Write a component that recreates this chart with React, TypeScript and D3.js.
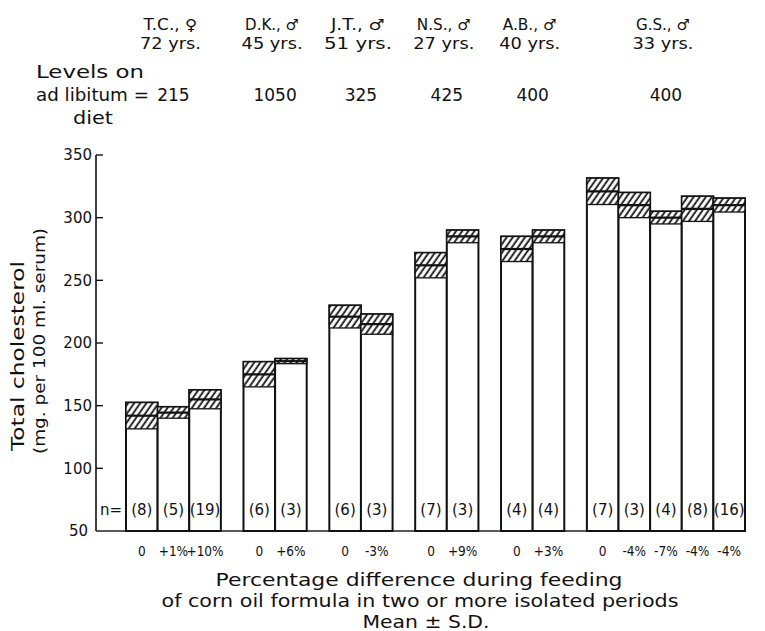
import React from "react";
import * as d3 from "d3";

// subjects (header), ages and cholesterol levels on ad libitum diet
const subjects = ["T.C., ♀", "D.K., ♂", "J.T., ♂", "N.S., ♂", "A.B., ♂", "G.S., ♂"];
const ages = ["72 yrs.", "45 yrs.", "51 yrs.", "27 yrs.", "40 yrs.", "33 yrs."];
const adLibLevels = ["215", "1050", "325", "425", "400", "400"];

// one entry per bar
const barSubject = [0, 0, 0, 1, 1, 2, 2, 3, 3, 4, 4, 5, 5, 5, 5, 5];
const means = [142, 144.5, 155, 175, 185.5, 221, 215, 262, 285, 275, 285, 321, 310, 300, 307, 310];
const sds = [10.5, 4.5, 7.5, 10, 2, 9, 8, 10, 5, 10, 5, 10.5, 10, 5, 10, 5.5];
const nCounts = ["(8)", "(5)", "(19)", "(6)", "(3)", "(6)", "(3)", "(7)", "(3)", "(4)", "(4)", "(7)", "(3)", "(4)", "(8)", "(16)"];
const pctDiffs = ["0", "+1%", "+10%", "0", "+6%", "0", "-3%", "0", "+9%", "0", "+3%", "0", "-4%", "-7%", "-4%", "-4%"];

const yTicks = [50, 100, 150, 200, 250, 300, 350];

const W = 765;
const H = 631;
const FONT = "DejaVu Sans";
const INK = "#111";
const GAP = 0.715; // gap between subjects, in bar widths

export default function App() {
  const slot = (i: number) => i + barSubject[i] * GAP;
  const nUnits = means.length + (subjects.length - 1) * GAP;

  const x = d3.scaleLinear().domain([0, nUnits]).range([126, 745]);
  const y = d3.scaleLinear().domain([50, 350]).range([531, 155]);

  // centre of each subject group
  const groupCenter = subjects.map((_, g) => {
    const idx = barSubject.map((s, i) => (s === g ? i : -1)).filter((i) => i >= 0);
    return (x(slot(idx[0])) + x(slot(idx[idx.length - 1]) + 1)) / 2;
  });

  const axisX = 96;

  return (
    <svg
      width={W}
      height={H}
      style={{ position: "absolute", left: 0, top: 0, background: "#fff" }}
      fontFamily={FONT}
    >
      <defs>
        <pattern
          id="hatch"
          patternUnits="userSpaceOnUse"
          width={5}
          height={10}
          patternTransform="rotate(35)"
        >
          <rect width={5} height={10} fill="#fff" />
          <line x1={1.2} y1={0} x2={1.2} y2={10} stroke={INK} strokeWidth={1.8} />
        </pattern>
      </defs>

      {/* header: subject, age, ad libitum level */}
      {subjects.map((s, g) => (
        <g key={s + g} fill={INK} textAnchor="middle">
          <text x={groupCenter[g] - 3} y={30} fontSize={15} textLength={54} lengthAdjust="spacingAndGlyphs">
            {s}
          </text>
          <text x={groupCenter[g] - 3} y={49} fontSize={16} textLength={g === 2 ? 68 : 61} lengthAdjust="spacingAndGlyphs">
            {ages[g]}
          </text>
          <text x={groupCenter[g]} y={101} fontSize={17}>
            {adLibLevels[g]}
          </text>
        </g>
      ))}
      <g fill={INK} fontSize={17}>
        <text x={36} y={78} textLength={108} lengthAdjust="spacingAndGlyphs">Levels on</text>
        <text x={36} y={101} textLength={113} lengthAdjust="spacingAndGlyphs">ad libitum =</text>
        <text x={73} y={124} textLength={40} lengthAdjust="spacingAndGlyphs">diet</text>
      </g>

      {/* y axis */}
      <line x1={axisX} x2={axisX} y1={y(350)} y2={y(50)} stroke={INK} strokeWidth={1.6} />
      {yTicks.map((t) => (
        <g key={t}>
          {t > 50 && (
            <line x1={axisX} x2={axisX + 7} y1={y(t)} y2={y(t)} stroke={INK} strokeWidth={1.4} />
          )}
          <text
            x={t === 50 ? 88 : 92}
            y={y(t)}
            dy="0.36em"
            fontSize={15}
            textAnchor="end"
            fill={INK}
          >
            {t}
          </text>
        </g>
      ))}
      <line x1={axisX} x2={x(nUnits)} y1={y(50)} y2={y(50)} stroke="#222" strokeWidth={1.6} />

      <text
        transform={`translate(24,356) rotate(-90)`}
        fontSize={17}
        textAnchor="middle"
        textLength={190}
        lengthAdjust="spacingAndGlyphs"
        fill={INK}
      >
        Total cholesterol
      </text>
      <text
        transform={`translate(45,341) rotate(-90)`}
        fontSize={16}
        textAnchor="middle"
        textLength={226}
        lengthAdjust="spacingAndGlyphs"
        fill={INK}
      >
        (mg. per 100 ml. serum)
      </text>

      {/* bars */}
      {means.map((m, i) => {
        const x0 = x(slot(i));
        const x1 = x(slot(i) + 1);
        const top = y(m + sds[i]);
        const bot = y(m - sds[i]);
        return (
          <g key={i}>
            <rect x={x0} y={top} width={x1 - x0} height={y(50) - top} fill="#fff" stroke={INK} strokeWidth={2} />
            <rect x={x0} y={top} width={x1 - x0} height={bot - top} fill="url(#hatch)" stroke={INK} strokeWidth={1.3} />
            <line x1={x0} x2={x1} y1={y(m)} y2={y(m)} stroke={INK} strokeWidth={2.2} />
            <text x={(x0 + x1) / 2} y={510} dy="0.36em" fontSize={15} textAnchor="middle" fill={INK}>
              {nCounts[i]}
            </text>
            <text
              x={(x0 + x1) / 2}
              y={551}
              dy="0.36em"
              fontSize={13.5}
              fontFamily="DejaVu Sans Condensed"
              fontStretch="condensed"
              textAnchor="middle"
              fill={INK}
            >
              {pctDiffs[i]}
            </text>
          </g>
        );
      })}
      <text x={111} y={510} dy="0.36em" fontSize={15} textAnchor="middle" fill={INK}>n=</text>

      {/* x title */}
      <g fill={INK} fontSize={17} textAnchor="middle">
        <text x={419} y={586} textLength={407} lengthAdjust="spacingAndGlyphs">
          Percentage difference during feeding
        </text>
        <text x={420} y={607} textLength={517} lengthAdjust="spacingAndGlyphs">
          of corn oil formula in two or more isolated periods
        </text>
        <text x={426} y={628} textLength={127} lengthAdjust="spacingAndGlyphs">
          Mean ± S.D.
        </text>
      </g>
    </svg>
  );
}
